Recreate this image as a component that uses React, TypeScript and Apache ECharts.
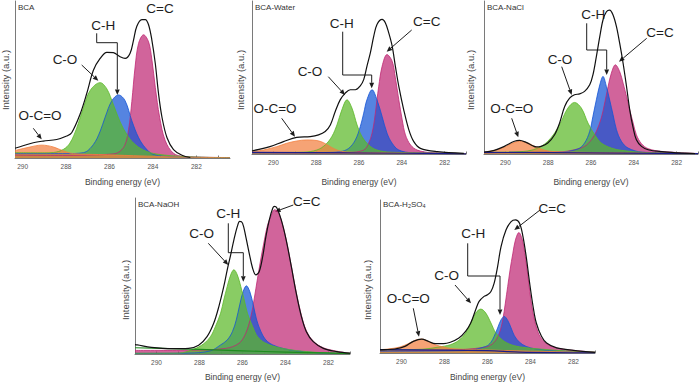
import { useEffect, useRef } from "react";
import * as echarts from "echarts";

type Pt = [number, number];

// Binding-energy windows (eV) of the five spectra
const bcaRange: Pt = [280.45, 290.35];
const fullRange: Pt = [281, 291];
const majorTicks = [282, 284, 286, 288, 290];
const minorTicks = [281, 282, 283, 284, 285, 286, 287, 288, 289, 290];

// ---------- BCA ----------
const bcaEnvelope: Pt[] = [[290.35, 6.3], [290.28, 6.5], [289.51, 9.7], [289.05, 10.8], [288.43, 11.8], [287.97, 14], [287.74, 16.1], [287.35, 28], [287.05, 40.9], [286.74, 55.9], [286.43, 63.4], [286.12, 67.3], [285.82, 67.1], [285.51, 64.5], [285.28, 63.4], [285.05, 66.7], [284.89, 75.3], [284.74, 83.9], [284.51, 88.2], [284.35, 88.2], [284.2, 84.9], [284.05, 75.3], [283.89, 60.2], [283.74, 40.9], [283.58, 25.8], [283.35, 12.9], [283.05, 5.4], [282.66, 1.7], [282.28, 0.3]];
const bcaCC: Pt[] = [[290.35, 1.8], [288.0, 1.6], [286.6, 2.0], [286.0, 2.4], [285.6, 3.5], [285.3, 8], [285.12, 18], [284.97, 36], [284.82, 58], [284.66, 73], [284.43, 78.5], [284.2, 74], [284.05, 63], [283.89, 45], [283.69, 26], [283.43, 11], [283.05, 3], [282.58, 1], [280.45, 0.3]];
const bcaCH: Pt[] = [[290.35, 2.8], [288.0, 2.8], [287.2, 3.4], [286.74, 8.6], [286.43, 17], [286.2, 26], [285.89, 36.5], [285.58, 40.2], [285.28, 36.5], [284.97, 23.7], [284.66, 13], [284.35, 6.5], [283.97, 2.2], [283.0, 0.8], [280.45, 0.2]];
const bcaCO: Pt[] = [[290.35, 3.4], [289.0, 3.3], [288.58, 3.5], [288.12, 5.5], [287.82, 9.5], [287.51, 19], [287.2, 32], [286.89, 43], [286.43, 48], [286.12, 44], [285.82, 34], [285.51, 23], [285.2, 15], [284.89, 9.5], [284.43, 5], [283.82, 2.5], [282.43, 0.8], [280.45, 0.2]];
const bcaOCO: Pt[] = [[290.35, 4.8], [290.28, 5], [289.66, 7], [289.12, 8.2], [288.58, 7], [288.12, 4.5], [287.66, 2.8], [286.5, 2.2], [284.9, 1.5], [282.4, 0.5], [280.45, 0.2]];

// ---------- BCA-Water ----------
const waterEnvelope: Pt[] = [[291, 2.0], [290.94, 2.2], [290.16, 4.8], [289.53, 8.1], [288.91, 10.9], [288.28, 11.4], [287.89, 12.5], [287.58, 14.7], [287.34, 19], [287.11, 27.8], [286.88, 35.4], [286.64, 39.8], [286.41, 42], [286.17, 42], [285.94, 44.6], [285.78, 48.6], [285.63, 57.3], [285.47, 66.1], [285.31, 77], [285.16, 84.7], [284.92, 88], [284.77, 85.8], [284.61, 79.2], [284.45, 70.5], [284.3, 57.3], [284.14, 44.2], [283.91, 28.9], [283.67, 15.8], [283.44, 8.1], [283.13, 3.7], [282.34, 1.5], [281.1, 0.4]];
const waterCC: Pt[] = [[291, 0.8], [286.5, 1.0], [285.78, 2.6], [285.55, 7], [285.39, 13.6], [285.28, 22], [285.16, 35.4], [285.08, 44], [284.92, 57.3], [284.69, 65], [284.45, 60.6], [284.3, 49.7], [284.14, 35.4], [283.98, 22.3], [283.83, 12.5], [283.59, 5.9], [283.28, 2.6], [282.66, 0.9], [281, 0.3]];
const waterCH: Pt[] = [[291, 0.8], [287.5, 1.0], [286.88, 1.5], [286.48, 3.7], [286.17, 9.2], [285.94, 17.9], [285.78, 26.7], [285.63, 35.4], [285.39, 42], [285.16, 35.4], [284.92, 24.5], [284.69, 13.6], [284.45, 7], [284.14, 2.6], [283.5, 0.8], [281, 0.3]];
const waterCO: Pt[] = [[291, 0.9], [288.6, 1.2], [287.97, 2.6], [287.58, 5.9], [287.27, 11.4], [287.03, 19], [286.8, 28.9], [286.56, 35.4], [286.33, 30], [286.09, 19], [285.86, 11.4], [285.55, 5.9], [285.16, 2.6], [284.5, 1.2], [281, 0.3]];
const waterOCO: Pt[] = [[291, 1.0], [290.94, 1.5], [290.47, 2.6], [289.84, 4.8], [289.38, 7], [288.91, 8.5], [288.44, 9.2], [287.97, 8.8], [287.66, 7.4], [287.34, 4.8], [287.03, 2.6], [286.6, 1.3], [285, 0.8], [281, 0.3]];
const waterBackground: Pt[] = [[291, 1.1], [284, 0.5], [281, 0.1]];

// ---------- BCA-NaCl ----------
const naclEnvelope: Pt[] = [[291, 1.3], [290.52, 2.4], [290.05, 5], [289.58, 8.3], [289.34, 8.9], [289.03, 7.6], [288.72, 5.4], [288.56, 4.6], [288.33, 5], [288.02, 7.2], [287.7, 12.6], [287.47, 20.2], [287.23, 31.1], [287.0, 36.5], [286.77, 38.7], [286.53, 39.3], [286.3, 40.9], [286.06, 45.2], [285.91, 51.7], [285.75, 63.7], [285.59, 76.7], [285.44, 87.6], [285.28, 93], [285.13, 94.1], [284.97, 90.9], [284.81, 83.3], [284.66, 72.4], [284.5, 59.3], [284.34, 44.1], [284.19, 28.9], [284.03, 17], [283.88, 9.3], [283.64, 5], [283.33, 2.8], [282.7, 1.5], [281.92, 0.7], [281.14, 0.2]];
const naclCC: Pt[] = [[291, 0.9], [287.5, 1.3], [286.77, 2.8], [286.3, 5], [285.98, 9.3], [285.75, 14.8], [285.52, 23.5], [285.36, 33.3], [285.2, 44.1], [285.05, 52.8], [284.86, 58.3], [284.66, 53.9], [284.5, 46.3], [284.34, 37.6], [284.19, 28.9], [284.03, 20.2], [283.88, 12.6], [283.64, 6.7], [283.33, 3.5], [282.7, 1.7], [281, 0.3]];
const naclCH: Pt[] = [[291, 0.9], [287.5, 1.1], [286.61, 3.3], [286.3, 7.2], [286.06, 14.8], [285.91, 24.6], [285.75, 35.4], [285.59, 45.2], [285.44, 50.7], [285.28, 44.1], [285.13, 35.4], [284.97, 25.7], [284.81, 15.9], [284.58, 8.3], [284.27, 3.9], [283.6, 1.2], [281, 0.3]];
const naclCO: Pt[] = [[291, 1.1], [289.5, 1.4], [288.8, 2.4], [288.33, 5], [288.02, 8.3], [287.7, 13.7], [287.39, 21.3], [287.08, 30], [286.77, 33.7], [286.45, 30], [286.14, 20.2], [285.83, 12.6], [285.52, 7.2], [285.05, 3.9], [284.58, 2.4], [283.5, 1.0], [281, 0.3]];
const naclOCO: Pt[] = [[291, 1.2], [290.52, 2.4], [290.13, 3.9], [289.73, 6.7], [289.34, 8.3], [288.95, 7.2], [288.64, 5], [288.25, 2.8], [287.86, 1.7], [287, 1.2], [281, 0.3]];
const naclBackground: Pt[] = [[291, 1.1], [281, 0.2]];

// ---------- BCA-NaOH ----------
const naohEnvelope: Pt[] = [[291, 6.0], [290.89, 5.8], [290.24, 4.3], [289.29, 3.4], [288.51, 3.6], [288.04, 5.6], [287.65, 11.1], [287.34, 19.7], [287.1, 30.4], [286.87, 43.3], [286.71, 54], [286.55, 63.6], [286.4, 73.2], [286.24, 81.8], [286.13, 85], [286.0, 83.9], [285.85, 75.4], [285.69, 64.7], [285.53, 55], [285.38, 50.7], [285.22, 52.9], [285.06, 62.5], [284.91, 75.4], [284.75, 86.1], [284.59, 93.6], [284.51, 94.6], [284.4, 93.6], [284.2, 86.1], [283.97, 73.2], [283.73, 56.1], [283.5, 39], [283.26, 24], [283.03, 14.3], [282.71, 7.9], [282.24, 3.6], [281.61, 1.5], [281.0, 0.5]];
const naohCC: Pt[] = [[291, 2.3], [288.51, 2.4], [286.79, 3.6], [286.16, 6.9], [285.85, 13.3], [285.61, 24], [285.45, 35.8], [285.3, 48.6], [285.14, 61.5], [284.98, 73.2], [284.83, 82.9], [284.67, 88.5], [284.51, 92.5], [284.36, 91.2], [284.2, 86], [283.97, 73.5], [283.73, 56.5], [283.5, 39.5], [283.26, 24.8], [283.03, 15], [282.71, 8.3], [282.24, 4.0], [281.61, 1.8], [281, 0.4]];
const naohCH: Pt[] = [[291, 0.4], [288.5, 0.6], [287.5, 2.0], [287.02, 5.8], [286.71, 9], [286.47, 14.3], [286.29, 21.8], [286.13, 31.5], [285.97, 40], [285.82, 43.7], [285.66, 40], [285.5, 31.5], [285.34, 21.8], [285.14, 14.3], [284.91, 9], [284.59, 5.8], [284.12, 3.6], [283.5, 2.0], [282.5, 0.8], [281, 0.3]];
const naohCO: Pt[] = [[291, 0.5], [288.98, 0.6], [288.28, 3.0], [287.81, 6.5], [287.49, 11.1], [287.26, 17.6], [287.02, 26.1], [286.87, 34.7], [286.71, 43.3], [286.55, 50.7], [286.4, 54], [286.24, 50.7], [286.08, 43.3], [285.92, 34.7], [285.77, 26.1], [285.53, 17.6], [285.3, 11.1], [284.98, 7.3], [284.59, 5.1], [284.1, 3.5], [283.5, 2.2], [282.5, 1.0], [281, 0.4]];
const naohBackground: Pt[] = [[291, 4.0], [289, 3.3], [287, 2.5], [285, 1.6], [283, 0.9], [281, 0.3]];

// ---------- BCA-H2SO4 ----------
const acidEnvelope: Pt[] = [[291, 2.1], [290.78, 2.2], [290.31, 2.6], [289.84, 4.3], [289.45, 7.6], [289.06, 9.1], [288.75, 7.6], [288.43, 6.1], [288.04, 6.1], [287.73, 7], [287.33, 9.8], [287.02, 14.1], [286.78, 19.6], [286.55, 28.3], [286.39, 33.7], [286.16, 37], [286.0, 38], [285.84, 40.2], [285.69, 45.7], [285.53, 56.5], [285.37, 69.6], [285.14, 80.4], [284.9, 85.9], [284.7, 87], [284.51, 84.8], [284.35, 76.1], [284.2, 63], [284.04, 45.7], [283.88, 30.4], [283.73, 19.6], [283.49, 10.9], [283.25, 6.5], [282.78, 3.3], [282.0, 1.7], [281.0, 0.4]];
const acidCC: Pt[] = [[291, 1.5], [288, 1.8], [286.08, 3.9], [285.69, 7], [285.45, 13], [285.29, 21.7], [285.17, 32.6], [285.06, 43.5], [284.95, 54.3], [284.82, 65.2], [284.7, 73.9], [284.54, 78.7], [284.38, 73.9], [284.24, 63], [284.1, 47.8], [283.96, 32.6], [283.8, 20.7], [283.6, 12], [283.33, 7], [282.94, 3.9], [282.31, 2.2], [281, 0.5]];
const acidCH: Pt[] = [[291, 1.2], [287, 1.6], [286.08, 4.3], [285.84, 7], [285.69, 10.9], [285.53, 16.3], [285.37, 21.7], [285.22, 23.9], [285.06, 21.3], [284.9, 16.3], [284.75, 11.3], [284.51, 7], [284.2, 4.3], [283.73, 2.6], [282.5, 1.2], [281, 0.4]];
const acidCO: Pt[] = [[291, 2.0], [289, 2.5], [288.27, 3.9], [287.73, 5.4], [287.33, 8.3], [287.02, 13], [286.78, 19.6], [286.55, 26.1], [286.31, 28.7], [286.08, 26.1], [285.84, 19.6], [285.61, 13], [285.29, 8.3], [284.9, 5.4], [284.35, 3.7], [283.57, 2.6], [282.5, 1.5], [281, 0.5]];
const acidOCO: Pt[] = [[291, 2.2], [290.63, 2.6], [290.08, 3.9], [289.69, 6.1], [289.37, 8.3], [289.06, 9.1], [288.75, 7.6], [288.43, 5.4], [288.04, 3.9], [287.65, 2.8], [286.5, 2.2], [284, 1.2], [281, 0.4]];
const acidBackground: Pt[] = [[291, 2.2], [286, 1.6], [284.5, 0.6], [281, 0.1]];

const FONT = '"Liberation Sans", Arial, Helvetica, sans-serif';
const INK = "#1e1e1e";
const AXIS = "#7a7a7a";
const PINK = "#bf2874";
const BLUE = "#1454d6";
const GREEN = "#5cb828";
const ORANGE = "#f28040";
const NAVY = "#1c1c8a";
const LINE_GREEN = "#1e8c1e";

interface Panel {
  title: string;
  rich?: boolean;
  grid: { left: number; top: number; width: number; height: number };
  range: Pt;
  cc: Pt[];
  ch: Pt[];
  co: Pt[];
  oco?: Pt[];
  background?: Pt[];
  backgroundColor?: string;
  envelope: Pt[];
  yTitleX: number;
  yTitleY: number;
  xTitleY: number;
}

const panels: Panel[] = [
  { title: "BCA", grid: { left: 15, top: 1, width: 215, height: 157 }, range: bcaRange, cc: bcaCC, ch: bcaCH, co: bcaCO, oco: bcaOCO, envelope: bcaEnvelope, yTitleX: 5, yTitleY: 80, xTitleY: 182 },
  { title: "BCA-Water", grid: { left: 252, top: 1, width: 214, height: 153 }, range: fullRange, cc: waterCC, ch: waterCH, co: waterCO, oco: waterOCO, background: waterBackground, backgroundColor: NAVY, envelope: waterEnvelope, yTitleX: 240, yTitleY: 80, xTitleY: 182 },
  { title: "BCA-NaCl", grid: { left: 484, top: 1, width: 214, height: 153 }, range: fullRange, cc: naclCC, ch: naclCH, co: naclCO, oco: naclOCO, background: naclBackground, backgroundColor: NAVY, envelope: naclEnvelope, yTitleX: 470, yTitleY: 80, xTitleY: 182 },
  { title: "BCA-NaOH", grid: { left: 135, top: 198, width: 215, height: 156 }, range: fullRange, cc: naohCC, ch: naohCH, co: naohCO, background: naohBackground, backgroundColor: LINE_GREEN, envelope: naohEnvelope, yTitleX: 125, yTitleY: 290, xTitleY: 377 },
  { title: "BCA-H2SO4", rich: true, grid: { left: 380, top: 200, width: 215, height: 153 }, range: fullRange, cc: acidCC, ch: acidCH, co: acidCO, oco: acidOCO, background: acidBackground, backgroundColor: NAVY, envelope: acidEnvelope, yTitleX: 367, yTitleY: 290, xTitleY: 377 },
];

function text(x: number, y: number, s: string, size: number, extra: Record<string, unknown> = {}) {
  return {
    type: "text",
    x,
    y,
    silent: true,
    style: { text: s, fontSize: size, fontFamily: FONT, fill: INK, align: "center", verticalAlign: "middle" },
    ...extra,
  };
}

// polyline whose last segment ends in a filled arrowhead
function pointer(points: number[][]) {
  const n = points.length;
  const [x1, y1] = points[n - 2];
  const [x2, y2] = points[n - 1];
  const len = Math.hypot(x2 - x1, y2 - y1);
  const ux = (x2 - x1) / len;
  const uy = (y2 - y1) / len;
  const L = 5.5;
  const W = 2.4;
  const bx = x2 - ux * L;
  const by = y2 - uy * L;
  const head = [[x2, y2], [bx - uy * W, by + ux * W], [bx + uy * W, by - ux * W]];
  const line = points.slice(0, n - 1).concat([[bx, by]]);
  return [
    { type: "polyline", silent: true, shape: { points: line }, style: { stroke: INK, lineWidth: 1, fill: null } },
    { type: "polygon", silent: true, shape: { points: head }, style: { fill: INK } },
  ];
}

const LBL = 13.5;

const annotations = [
  // BCA
  text(160, 8, "C=C", LBL), text(103.3, 25, "C-H", LBL), text(65, 59.3, "C-O", LBL), text(40, 115, "O-C=O", LBL),
  ...pointer([[81.7, 65], [98.3, 80.7]]),
  ...pointer([[96.7, 33.3], [96.7, 42.7], [117.3, 42.7], [117.3, 95]]),
  ...pointer([[33.3, 128.3], [41.7, 139.3]]),
  // BCA-Water
  text(426.7, 21.7, "C=C", LBL), text(341.7, 23.3, "C-H", LBL), text(310, 71.7, "C-O", LBL), text(275, 108.3, "O-C=O", LBL),
  ...pointer([[411.7, 30], [386.7, 51.7]]),
  ...pointer([[342.7, 31.7], [342.7, 75], [371.7, 75], [371.7, 88.3]]),
  ...pointer([[328.3, 76.7], [345, 95]]),
  ...pointer([[281.7, 118.3], [295, 136.7]]),
  // BCA-NaCl
  text(660, 32.3, "C=C", LBL), text(593.3, 14, "C-H", LBL), text(560, 59.3, "C-O", LBL), text(511.7, 108.3, "O-C=O", LBL),
  ...pointer([[646.7, 38.3], [619, 61.7]]),
  ...pointer([[586.7, 23.3], [586.7, 50], [606.7, 50], [606.7, 75]]),
  ...pointer([[561.7, 66.7], [571.7, 95]]),
  ...pointer([[511.7, 118.3], [518.3, 137.3]]),
  // BCA-NaOH
  text(306.7, 201.7, "C=C", LBL), text(228.3, 213.3, "C-H", LBL), text(201.7, 233.3, "C-O", LBL),
  ...pointer([[293.3, 205], [275, 211.7]]),
  ...pointer([[228.3, 223.3], [228.3, 252.7], [243.3, 252.7], [243.3, 281.7]]),
  ...pointer([[208.3, 243.3], [228.3, 265]]),
  // BCA-H2SO4
  text(552.3, 208.3, "C=C", LBL), text(473.3, 233.3, "C-H", LBL), text(446.7, 275, "C-O", LBL), text(408.3, 298.3, "O-C=O", LBL),
  ...pointer([[540, 210], [514.3, 230]]),
  ...pointer([[467.7, 243.3], [467.7, 276], [500, 276], [500, 315]]),
  ...pointer([[455, 285], [471, 303.3]]),
  ...pointer([[413.3, 308.3], [419, 336.7]]),
];

function panelTexts(p: Panel) {
  const g = p.grid;
  const title = p.rich
    ? {
        type: "text",
        x: g.left + 3,
        y: g.top + 4,
        silent: true,
        style: {
          text: "{a|BCA-H}{b|2}{a|SO}{b|4}",
          align: "left",
          verticalAlign: "middle",
          rich: {
            a: { fontSize: 8, fontFamily: FONT, fill: "#333" },
            b: { fontSize: 5.5, fontFamily: FONT, fill: "#333", padding: [4, 0, 0, 0] },
          },
        },
      }
    : {
        type: "text",
        x: g.left + 3,
        y: g.top + 6,
        silent: true,
        style: { text: p.title, fontSize: 8, fontFamily: FONT, fill: "#333", align: "left", verticalAlign: "middle" },
      };
  return [
    title,
    text(p.yTitleX, p.yTitleY, "Intensity (a.u.)", 9.5, { rotation: Math.PI / 2, style: { text: "Intensity (a.u.)", fontSize: 9.5, fontFamily: FONT, fill: "#444", align: "center", verticalAlign: "middle" } }),
    {
      type: "text",
      x: g.left + g.width / 2,
      y: p.xTitleY,
      silent: true,
      style: { text: "Binding energy (eV)", fontSize: 8.5, fontFamily: FONT, fill: "#444", align: "center", verticalAlign: "middle" },
    },
  ];
}

function areaSeries(data: Pt[], color: string, idx: number) {
  return {
    type: "line",
    xAxisIndex: idx,
    yAxisIndex: idx,
    data,
    smooth: 0.35,
    symbol: "none",
    silent: true,
    lineStyle: { color, width: 0.8 },
    areaStyle: { color, opacity: 0.72 },
  };
}

function lineSeries(data: Pt[], color: string, width: number, idx: number) {
  return {
    type: "line",
    xAxisIndex: idx,
    yAxisIndex: idx,
    data,
    smooth: 0.35,
    symbol: "none",
    silent: true,
    lineStyle: { color, width },
  };
}

function buildOption() {
  const series: any[] = [];
  panels.forEach((p, i) => {
    series.push(areaSeries(p.cc, PINK, i));
    series.push(areaSeries(p.ch, BLUE, i));
    series.push(areaSeries(p.co, GREEN, i));
    if (p.oco) series.push(areaSeries(p.oco, ORANGE, i));
    if (p.background) series.push(lineSeries(p.background, p.backgroundColor || NAVY, 1.2, i));
    series.push(lineSeries(p.envelope, "#111111", 1.2, i));
  });
  return {
    animation: false,
    backgroundColor: "#ffffff",
    grid: panels.map((p) => ({ ...p.grid, containLabel: false })),
    xAxis: panels.map((p, i) => ({
      type: "value",
      gridIndex: i,
      min: p.range[0],
      max: p.range[1],
      inverse: true,
      axisLine: { show: true, onZero: false, lineStyle: { color: AXIS, width: 1 } },
      axisTick: { show: true, inside: true, length: 2.5, customValues: minorTicks, lineStyle: { color: AXIS } },
      axisLabel: { customValues: majorTicks, fontSize: 6.5, color: "#555", fontFamily: FONT, margin: 5 },
      splitLine: { show: false },
    })),
    yAxis: panels.map((_, i) => ({
      type: "value",
      gridIndex: i,
      min: 0,
      max: 100,
      axisLine: { show: true, lineStyle: { color: AXIS, width: 1 } },
      axisTick: { show: false },
      axisLabel: { show: false },
      splitLine: { show: false },
    })),
    series,
    graphic: { elements: [...panels.flatMap(panelTexts), ...annotations] },
  };
}

export default function App() {
  const ref = useRef<HTMLDivElement>(null);
  useEffect(() => {
    if (!ref.current) return;
    const chart = echarts.init(ref.current, undefined, { renderer: "svg" });
    chart.setOption(buildOption() as any);
    return () => chart.dispose();
  }, []);
  return <div ref={ref} style={{ position: "fixed", left: 0, top: 0, width: 700, height: 382, background: "#fff" }} />;
}
